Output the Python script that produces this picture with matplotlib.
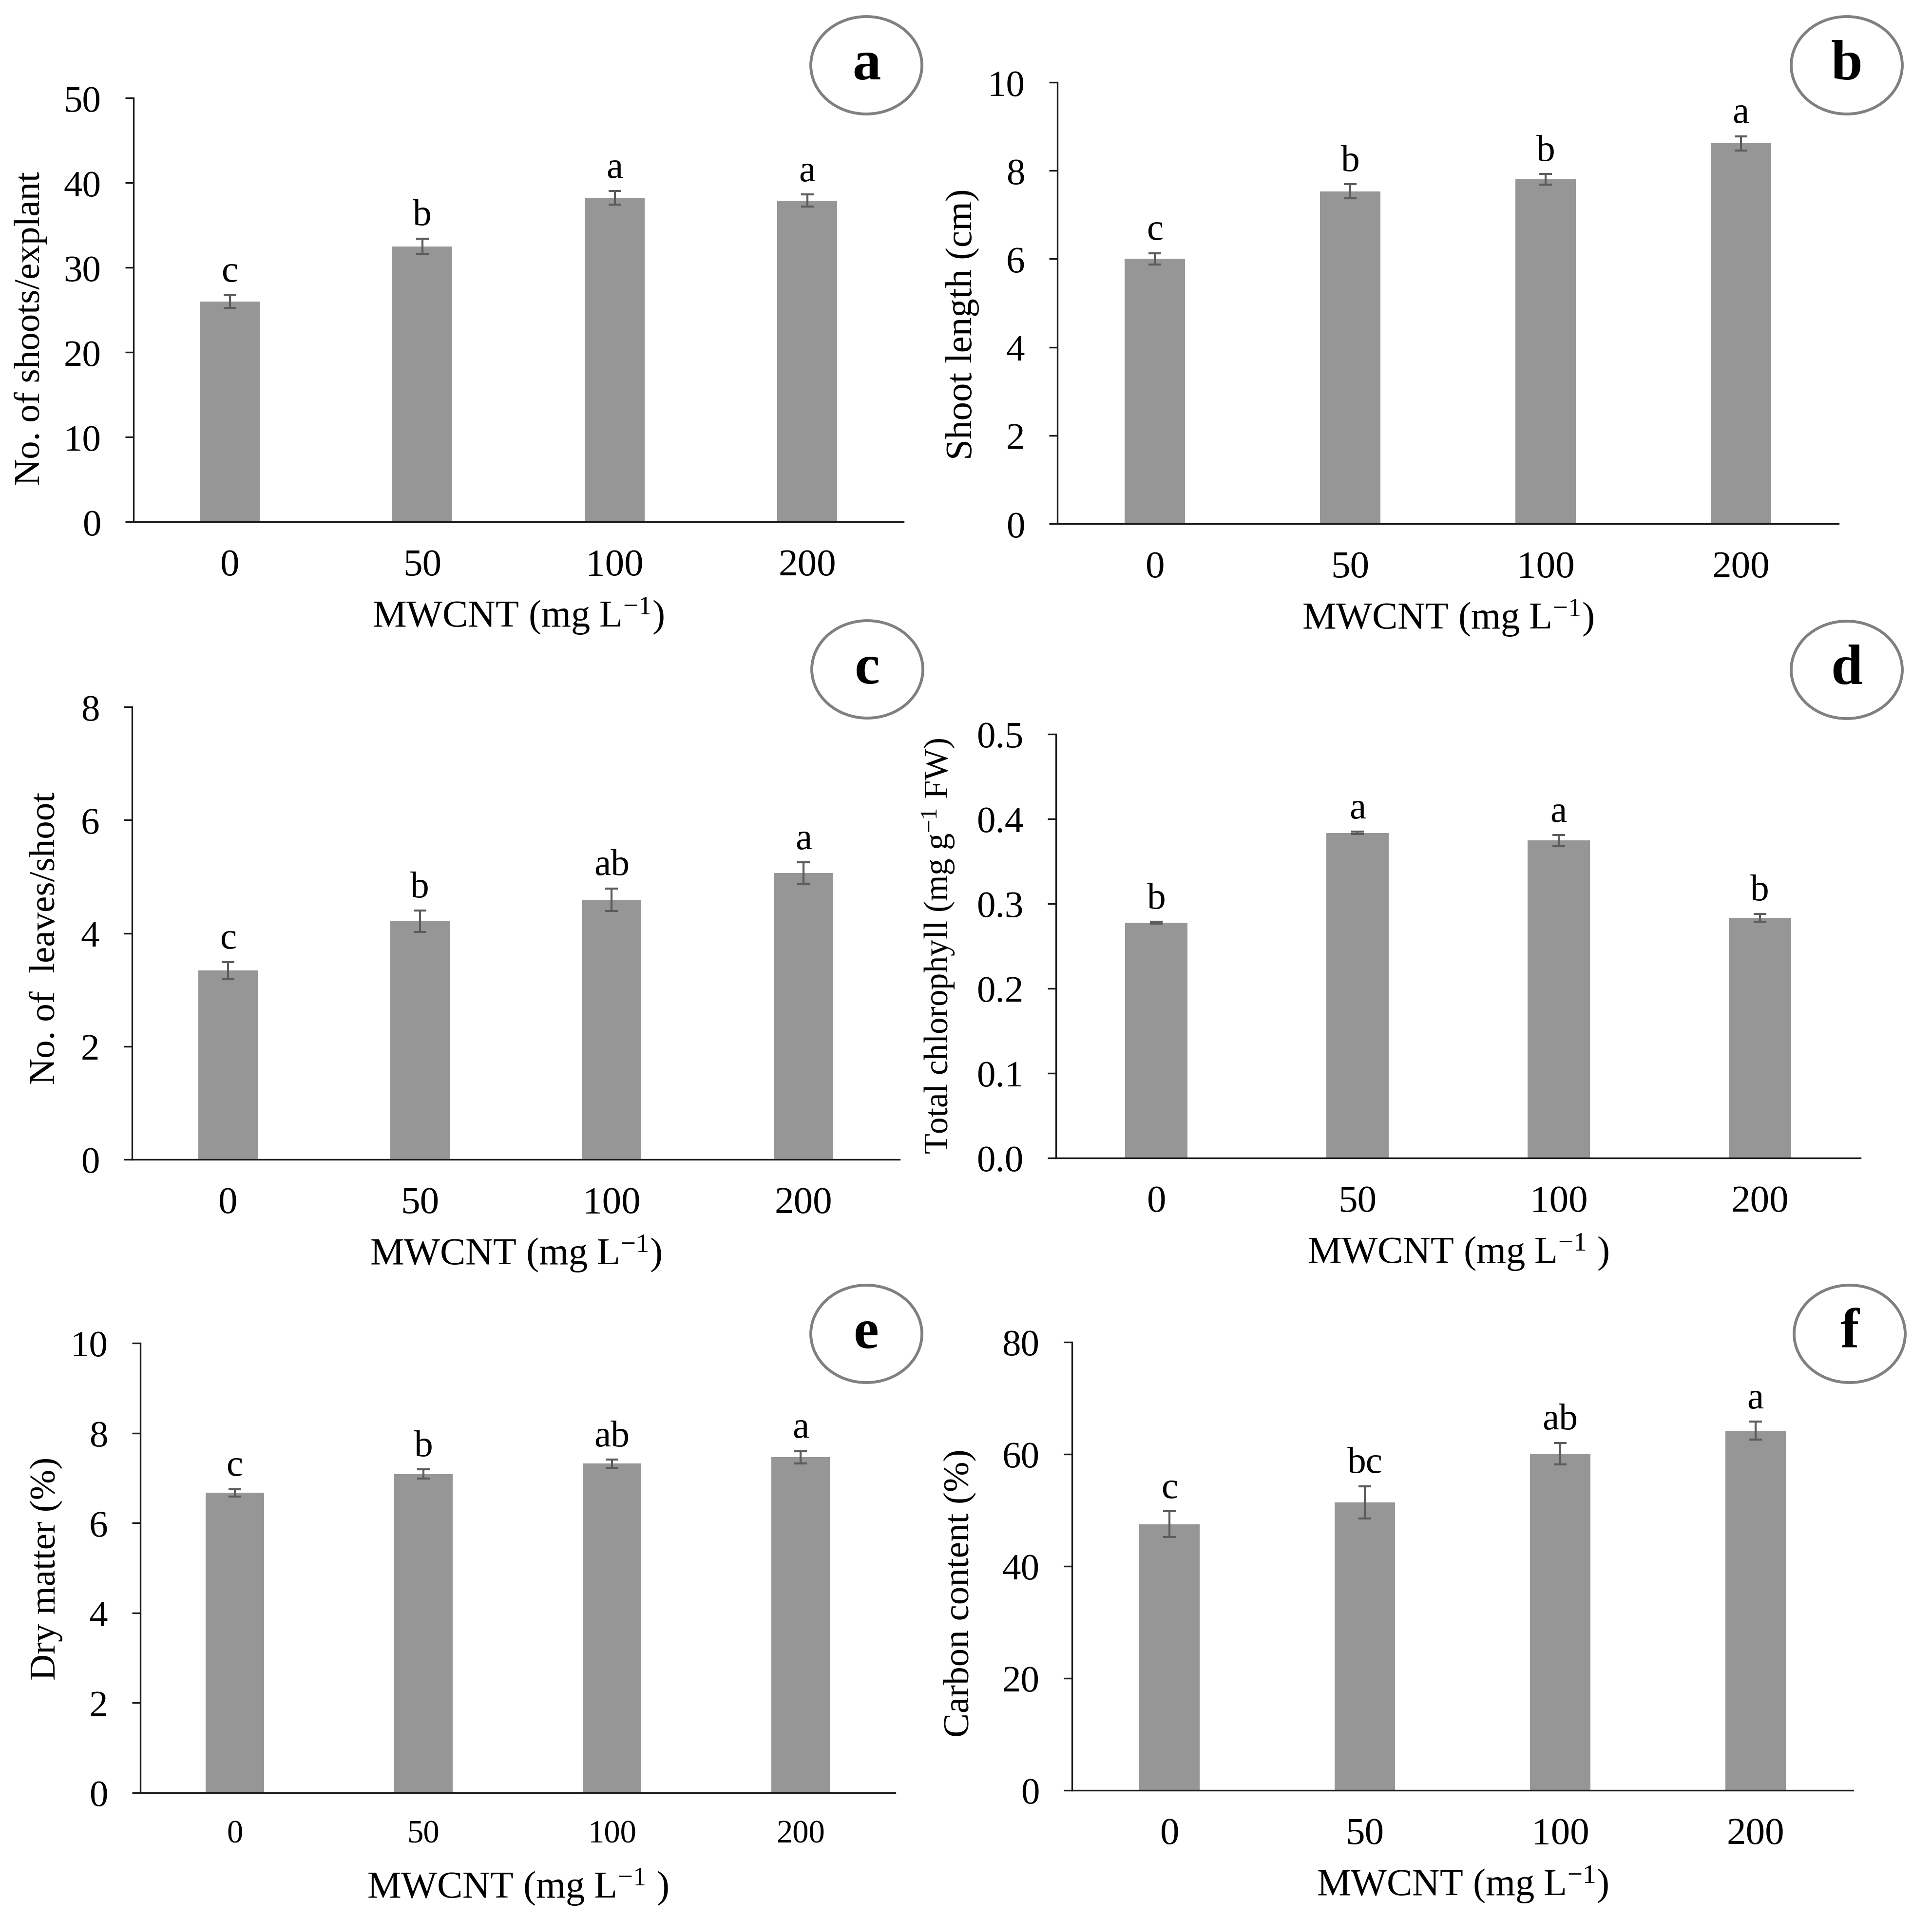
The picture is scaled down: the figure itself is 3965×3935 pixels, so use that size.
import matplotlib
matplotlib.use("Agg")
import matplotlib.pyplot as plt
from matplotlib.patches import Ellipse

plt.rcParams['font.family'] = ['Liberation Serif', 'DejaVu Serif']
plt.rcParams['mathtext.fontset'] = 'custom'
plt.rcParams['mathtext.rm'] = 'Liberation Serif'
plt.rcParams['mathtext.it'] = 'Liberation Serif:italic'
plt.rcParams['mathtext.bf'] = 'Liberation Serif:bold'

# ---------------- data ----------------
categories = ["0", "50", "100", "200"]

shoots_mean = [26.0, 32.5, 38.2, 37.9]
shoots_err = [0.75, 0.9, 0.8, 0.7]
shoots_sig = ["c", "b", "a", "a"]

length_mean = [6.0, 7.53, 7.8, 8.62]
length_err = [0.13, 0.16, 0.12, 0.16]
length_sig = ["c", "b", "b", "a"]

leaves_mean = [3.34, 4.21, 4.59, 5.06]
leaves_err = [0.15, 0.19, 0.2, 0.19]
leaves_sig = ["c", "b", "ab", "a"]

chl_mean = [0.2775, 0.3835, 0.3745, 0.2835]
chl_err = [0.001, 0.0015, 0.0065, 0.0045]
chl_sig = ["b", "a", "a", "b"]

dry_mean = [6.67, 7.09, 7.32, 7.46]
dry_err = [0.08, 0.1, 0.09, 0.14]
dry_sig = ["c", "b", "ab", "a"]

carbon_mean = [47.5, 51.4, 60.1, 64.2]
carbon_err = [2.3, 2.9, 1.9, 1.6]
carbon_sig = ["c", "bc", "ab", "a"]

ylabels = ["No. of shoots/explant", "Shoot length (cm)", "No. of  leaves/shoot",
           "Total chlorophyll (mg g$^{-1}$ FW)", "Dry matter (%)", "Carbon content (%)"]
xlabels = ["MWCNT (mg L$^{-1}$)", "MWCNT (mg L$^{-1}$)", "MWCNT (mg L$^{-1}$)",
           "MWCNT (mg L$^{-1}$ )", "MWCNT (mg L$^{-1}$ )", "MWCNT (mg L$^{-1}$)"]
panel_letters = ["a", "b", "c", "d", "e", "f"]
yticks = [[0, 10, 20, 30, 40, 50], [0, 2, 4, 6, 8, 10], [0, 2, 4, 6, 8],
          [0.0, 0.1, 0.2, 0.3, 0.4, 0.5], [0, 2, 4, 6, 8, 10], [0, 20, 40, 60, 80]]

# ---------------- layout (styles) ----------------
W, H = 3965, 3936
fig = plt.figure(figsize=(W / 300, H / 300), dpi=300)

# axes rectangles in pixel coords: left, top, right, bottom
rects_px = [(274, 202, 1854, 1072), (2170, 170, 3773, 1076),
            (271, 1452, 1846, 2381), (2167, 1508, 3818, 2378),
            (288, 2758, 1837, 3681), (2200, 2756, 3803, 3676)]
ylabel_pos = [(-0.1335, 0.457), (-0.1216, 0.4525), (-0.112, 0.49),
              (-0.146, 0.501), (-0.1246, 0.4995), (-0.144, 0.441)]
ylabel_size = [18, 18.5, 18, 16.5, 18, 18]
xtick_size = [19, 19, 19, 19, 16, 19]
circle_px = [(1778, 135), (3790, 135), (1780, 1375), (3790, 1376), (1778, 2739), (3796, 2739)]

means = [shoots_mean, length_mean, leaves_mean, chl_mean, dry_mean, carbon_mean]
errs = [shoots_err, length_err, leaves_err, chl_err, dry_err, carbon_err]
sigs = [shoots_sig, length_sig, leaves_sig, chl_sig, dry_sig, carbon_sig]

bar_color = "#969696"
err_color = "#5c5c5c"

for i in range(6):
    l, t, r, b = rects_px[i]
    ax = fig.add_axes([l / W, 1 - b / H, (r - l) / W, (b - t) / H])
    x = list(range(len(categories)))
    ax.bar(x, means[i], width=0.31, color=bar_color, zorder=2)
    ax.errorbar(x, means[i], yerr=errs[i], fmt='none', ecolor=err_color,
                elinewidth=1.0, capsize=3.2, capthick=1.0, zorder=3)
    for xi, m, e, s in zip(x, means[i], errs[i], sigs[i]):
        ax.annotate(s, (xi, m + e), xytext=(0, 3), textcoords='offset points',
                    ha='center', va='bottom', fontsize=18.5)
    ax.set_xlim(-0.5, 3.5)
    ax.set_ylim(yticks[i][0], yticks[i][-1])
    ax.set_yticks(yticks[i])
    if i == 3:
        ax.set_yticklabels([f"{v:.1f}" for v in yticks[i]])
    ax.set_xticks(x)
    ax.set_xticklabels(categories)
    for side in ['top', 'right']:
        ax.spines[side].set_visible(False)
    for side in ['left', 'bottom']:
        ax.spines[side].set_linewidth(0.8)
        ax.spines[side].set_color('#1a1a1a')
    ax.tick_params(axis='y', direction='out', length=4, width=0.8, pad=12,
                   labelsize=18.5, color='#1a1a1a')
    ax.tick_params(axis='x', length=0, pad=13, labelsize=xtick_size[i])
    ax.set_ylabel(ylabels[i], fontsize=ylabel_size[i])
    ax.yaxis.set_label_coords(*ylabel_pos[i])
    ax.yaxis.label.set_verticalalignment('center')
    ax.set_xlabel(xlabels[i], fontsize=18.8)
    xl_y = (b - (b + 193)) / (b - t)
    ax.xaxis.set_label_coords(0.5, xl_y)
    ax.xaxis.label.set_verticalalignment('center')

    cx, cy = circle_px[i]
    ell = Ellipse((cx / W, 1 - cy / H), 228 / W, 200 / H, transform=fig.transFigure,
                  facecolor='white', edgecolor='#808080', linewidth=1.4)
    fig.add_artist(ell)
    fig.text(cx / W, 1 - cy / H, panel_letters[i], ha='center', va='center',
             fontsize=28, fontweight='bold')

fig.savefig("out.png", dpi=300, facecolor='white')
